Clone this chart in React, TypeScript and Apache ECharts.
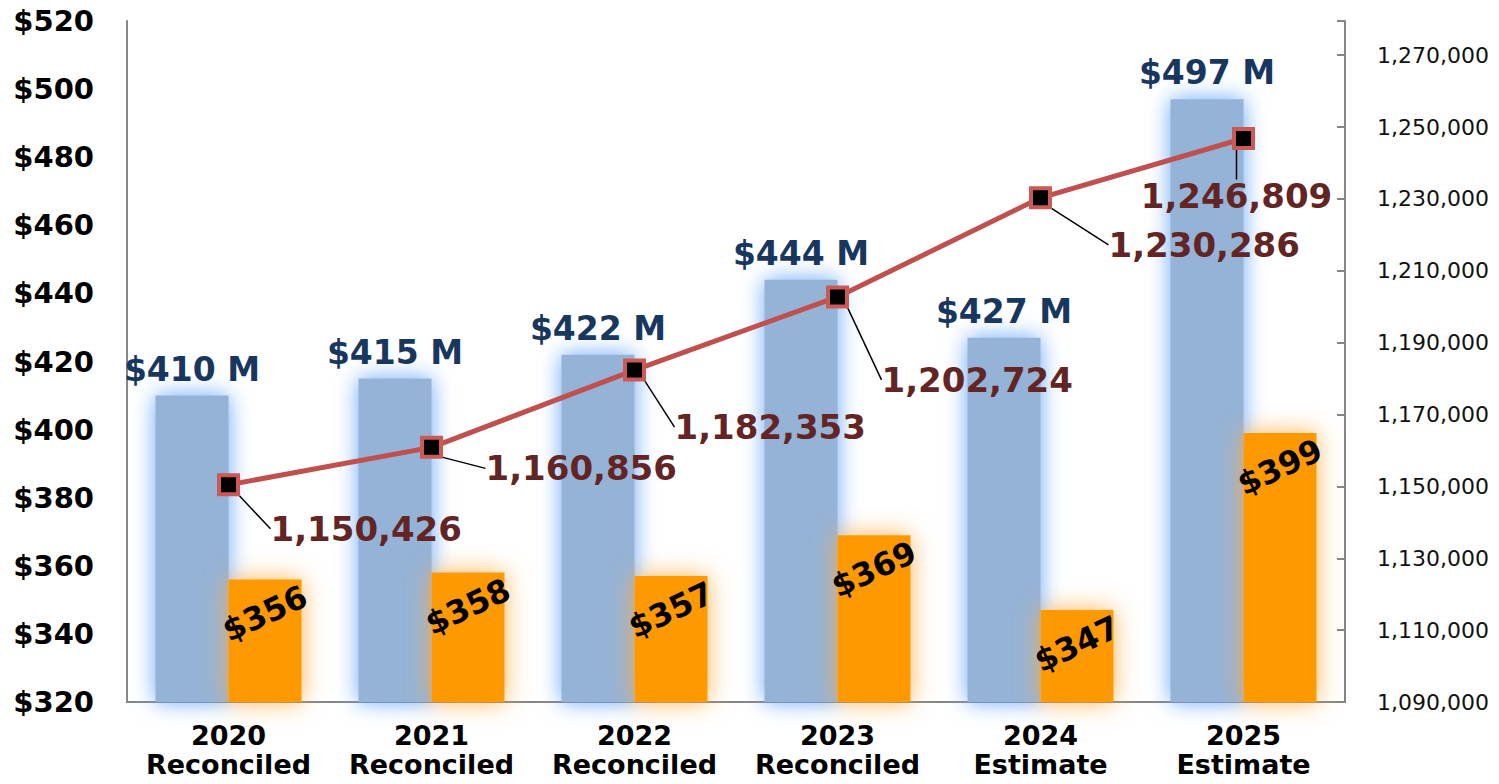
import React, { useEffect, useRef } from 'react';
import * as echarts from 'echarts';

const years = ['2020', '2021', '2022', '2023', '2024', '2025'];
const statuses = ['Reconciled', 'Reconciled', 'Reconciled', 'Reconciled', 'Estimate', 'Estimate'];
const totalMillions = [410, 415, 422, 444, 427, 497];
const perCapita = [356, 358, 357, 369, 347, 399];
const population = [1150426, 1160856, 1182353, 1202724, 1230286, 1246809];

const leftMin = 320;
const leftMax = 520;
const leftInterval = 20;
const rightBase = 1090000;
const rightTop = 1279500;
const rightInterval = 20000;
const rightLastLabel = 1270000;

// label offsets for population labels (style only): [dx, dy, align]
const popLabelOffsets: [number, number, string][] = [
  [42, 44, 'left'],
  [54, 21, 'left'],
  [40, 57, 'left'],
  [44, 83, 'left'],
  [68, 47, 'left'],
  [-7, 58, 'center'],
];

const FONT = 'DejaVu Sans';

export default function App() {
  const ref = useRef<HTMLDivElement>(null);
  useEffect(() => {
    if (!ref.current) return;
    const chart = echarts.init(ref.current, undefined, { renderer: 'svg' });
    const option: any = {
      animation: false,
      textStyle: { fontFamily: FONT },
      grid: { left: 127, right: 154, top: 21, bottom: 82 },
      xAxis: {
        type: 'category',
        data: years,
        axisLine: { lineStyle: { color: '#868686', width: 2 } },
        axisTick: { show: false },
        axisLabel: {
          interval: 0,
          formatter: (v: string, i: number) => `${v}\n${statuses[i]}`,
          fontSize: 27,
          lineHeight: 29,
          fontWeight: 'bold',
          color: '#000',
          margin: 19,
          fontFamily: FONT,
        },
      },
      yAxis: [
        {
          type: 'value',
          min: leftMin,
          max: leftMax,
          interval: leftInterval,
          axisLine: { show: true, lineStyle: { color: '#868686', width: 2 } },
          axisTick: { show: false },
          splitLine: { show: false },
          axisLabel: {
            formatter: (v: number) => `$${v}`,
            fontSize: 29,
            fontWeight: 'bold',
            color: '#000',
            margin: 33,
            fontFamily: FONT,
          },
        },
        {
          type: 'value',
          position: 'right',
          min: 0,
          max: rightTop - rightBase,
          interval: rightInterval,
          axisLine: { show: true, lineStyle: { color: '#868686', width: 2 } },
          axisTick: { show: true, inside: true, length: 8, lineStyle: { color: '#868686', width: 2 } },
          splitLine: { show: false },
          axisLabel: {
            formatter: (v: number) =>
              v + rightBase > rightLastLabel ? '' : (v + rightBase).toLocaleString('en-US'),
            fontSize: 22,
            color: '#111',
            margin: 32,
            fontFamily: FONT,
          },
        },
      ],
      series: [
        {
          type: 'bar',
          name: 'Total',
          data: totalMillions,
          barWidth: 73,
          barGap: '0%',
          itemStyle: {
            color: '#95B3D7',
            shadowBlur: 22,
            shadowColor: 'rgba(100,165,250,1)',
          },
          label: {
            show: true,
            position: 'top',
            distance: 10,
            formatter: (p: any) => `$${p.value} M`,
            fontSize: 33,
            fontWeight: 'bold',
            color: '#17375E',
            fontFamily: FONT,
          },
          z: 2,
        },
        {
          type: 'bar',
          name: 'Per capita',
          data: perCapita,
          barWidth: 73,
          barGap: '0%',
          itemStyle: {
            color: '#FF9900',
            shadowBlur: 24,
            shadowColor: 'rgba(255,170,60,0.9)',
          },
          label: {
            show: true,
            position: 'insideTop',
            distance: 34,
            rotate: 25,
            align: 'center',
            verticalAlign: 'middle',
            formatter: (p: any) => `$${p.value}`,
            fontSize: 32,
            fontWeight: 'bold',
            color: '#000',
            fontFamily: FONT,
          },
          z: 3,
        },
        {
          type: 'line',
          name: 'Population',
          yAxisIndex: 1,
          data: population.map((v) => v - rightBase),
          lineStyle: { color: '#C0504D', width: 5 },
          symbol: 'rect',
          symbolSize: 19,
          itemStyle: { color: '#000', borderColor: '#CB5A57', borderWidth: 4 },
          z: 5,
          label: {
            show: true,
            formatter: (p: any) => population[p.dataIndex].toLocaleString('en-US'),
            fontSize: 34,
            fontWeight: 'bold',
            color: '#632523',
            fontFamily: FONT,
          },
          labelLine: { show: true, lineStyle: { color: '#000', width: 1.5 } },
          labelLayout: (p: any) => {
            const i = p.dataIndex;
            const cx = p.rect.x + p.rect.width / 2;
            const cy = p.rect.y + p.rect.height / 2;
            const [dx, dy, align] = popLabelOffsets[i];
            if (align === 'center') {
              return {
                x: cx + dx,
                y: cy + dy,
                align: 'center',
                verticalAlign: 'middle',
                labelLinePoints: [
                  [cx - 1, cy + 8],
                  [cx - 8, cy + dy - 26],
                  [cx - 8, cy + dy - 26],
                ],
              };
            }
            return {
              x: cx + dx,
              y: cy + dy,
              align: 'left',
              verticalAlign: 'middle',
              labelLinePoints: [
                [cx + 7, cy + 8],
                [cx + dx - 20, cy + dy],
                [cx + dx - 10, cy + dy],
              ],
            };
          },
        },
      ],
    };
    chart.setOption(option);
    return () => chart.dispose();
  }, []);
  return (
    <div
      ref={ref}
      style={{ position: 'fixed', left: 0, top: 0, width: 1499, height: 784, background: '#fff' }}
    />
  );
}
